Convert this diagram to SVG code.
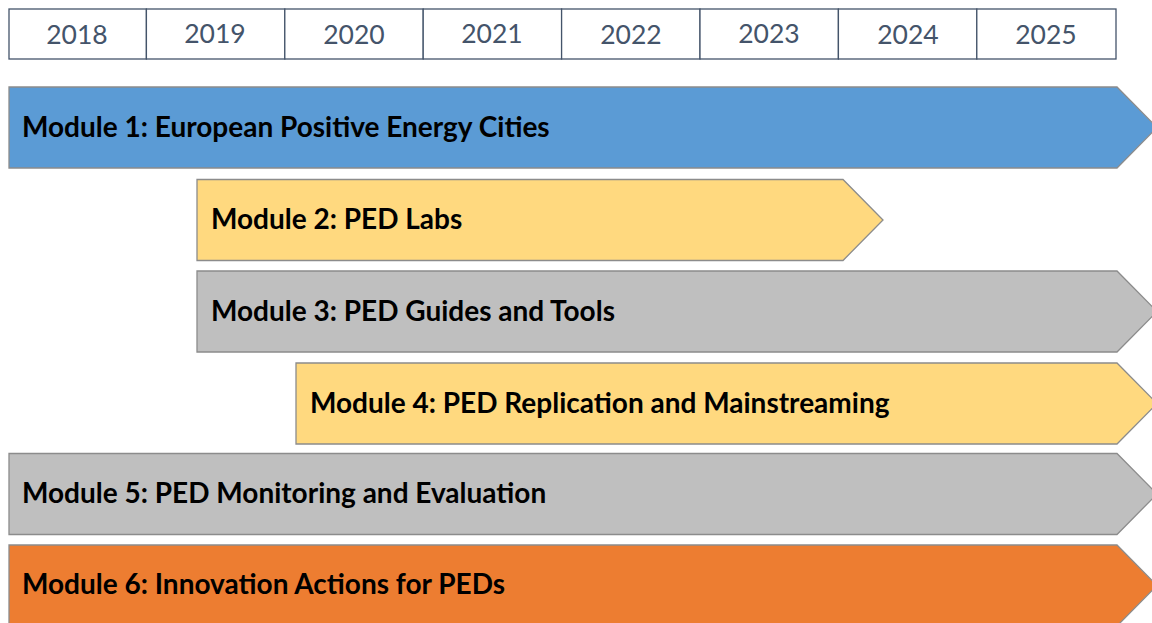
<svg xmlns="http://www.w3.org/2000/svg" width="1152" height="623" viewBox="0 0 1152 623">
<style>
.cell{fill:#fff;stroke:#44546A;stroke-width:1.3}
.yr{font-family:Lato,"Liberation Sans",sans-serif;font-size:26.5px;fill:#44546A;text-anchor:middle}
.bar{stroke:#8C8C8C;stroke-width:1.3}
.lbl{font-family:Lato,"Liberation Sans",sans-serif;font-weight:bold;font-size:28px;fill:#000}
.blue{fill:#5B9BD5}.yel{fill:#FFD97F}.gry{fill:#BFBFBF}.org{fill:#ED7D31}
</style>
<rect width="1152" height="623" fill="#fff"/>
<g id="years">
<rect class="cell" x="9" y="9" width="137.4" height="50"/>
<rect class="cell" x="146.4" y="9" width="138.4" height="50"/>
<rect class="cell" x="284.8" y="9" width="138.4" height="50"/>
<rect class="cell" x="423.2" y="9" width="138.4" height="50"/>
<rect class="cell" x="561.6" y="9" width="138.4" height="50"/>
<rect class="cell" x="700" y="9" width="138.4" height="50"/>
<rect class="cell" x="838.4" y="9" width="138.4" height="50"/>
<rect class="cell" x="976.8" y="9" width="139.2" height="50"/>
<text class="yr" x="77" y="43.5">2018</text>
<text class="yr" x="215" y="42.5">2019</text>
<text class="yr" x="354" y="43.5">2020</text>
<text class="yr" x="492" y="42.5">2021</text>
<text class="yr" x="631" y="43.5">2022</text>
<text class="yr" x="769" y="42.5">2023</text>
<text class="yr" x="908" y="43.5">2024</text>
<text class="yr" x="1046" y="43.5">2025</text>
</g>
<g id="module1">
<polygon class="bar blue" points="9,87 1117,87 1157,127.5 1117,168 9,168"/>
<text class="lbl" x="22" y="137">Module 1: European Positive Energy Cities</text>
</g>
<g id="module2">
<polygon class="bar yel" points="197,179.5 843,179.5 883,220 843,260.5 197,260.5"/>
<text class="lbl" x="211" y="229">Module 2: PED Labs</text>
</g>
<g id="module3">
<polygon class="bar gry" points="197,271 1117,271 1157,311.5 1117,352 197,352"/>
<text class="lbl" x="211" y="321">Module 3: PED Guides and Tools</text>
</g>
<g id="module4">
<polygon class="bar yel" points="296,363 1117,363 1157,403.5 1117,444 296,444"/>
<text class="lbl" x="310" y="413">Module 4: PED Replication and Mainstreaming</text>
</g>
<g id="module5">
<polygon class="bar gry" points="9,453.5 1117,453.5 1157,494 1117,534.5 9,534.5"/>
<text class="lbl" x="22" y="503">Module 5: PED Monitoring and Evaluation</text>
</g>
<g id="module6">
<polygon class="bar org" points="9,545 1117,545 1157,585.5 1117,626 9,626"/>
<text class="lbl" x="22" y="594">Module 6: Innovation Actions for PEDs</text>
</g>
<g id="connectors"/>
</svg>
